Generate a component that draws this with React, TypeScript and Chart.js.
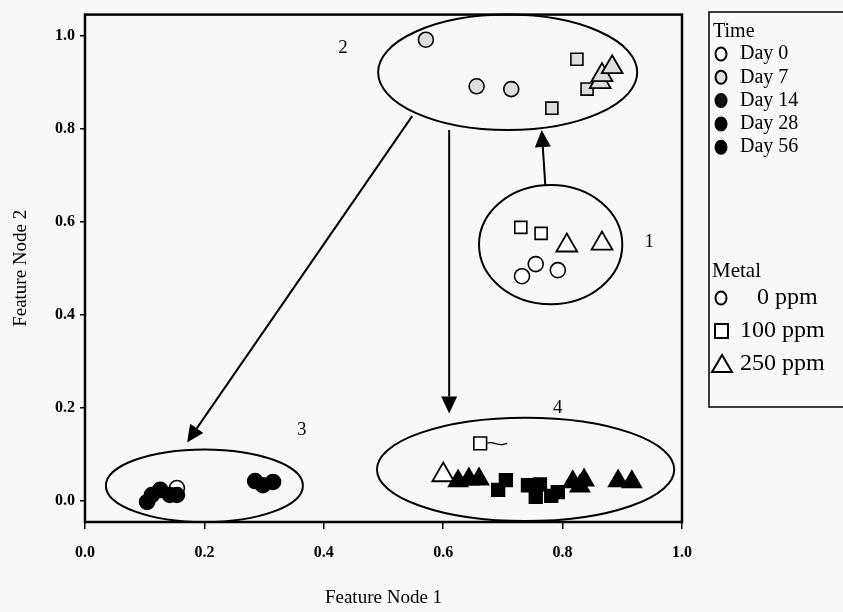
import React, { useEffect, useRef } from 'react';
import { Chart, registerables } from 'chart.js';
Chart.register(...registerables);

const SERIF = '"Liberation Serif", "Times New Roman", serif';

const xTickValues = [0, 0.2, 0.4, 0.6, 0.8, 1.0];
const yTickValues = [0, 0.2, 0.4, 0.6, 0.8, 1.0];

// Cluster 1 — Day 0 (open markers)
const day0Circles = [{ x: 0.732, y: 0.483 }, { x: 0.755, y: 0.509 }, { x: 0.792, y: 0.496 }];
const day0Squares = [{ x: 0.730, y: 0.588 }, { x: 0.764, y: 0.575 }];
const day0Triangles = [{ x: 0.807, y: 0.549 }, { x: 0.866, y: 0.553 }];

// Cluster 2 — Day 7
const day7Circles = [{ x: 0.571, y: 0.991 }, { x: 0.656, y: 0.891 }, { x: 0.714, y: 0.885 }];
const day7Squares = [{ x: 0.824, y: 0.949 }, { x: 0.841, y: 0.885 }, { x: 0.782, y: 0.844 }];
const day7Triangles = [{ x: 0.863, y: 0.900 }, { x: 0.866, y: 0.915 }, { x: 0.883, y: 0.932 }];

// Cluster 3 — later days, 0 ppm
const lateCircles = [
  { x: 0.104, y: -0.002 }, { x: 0.112, y: 0.013 }, { x: 0.126, y: 0.024 }, { x: 0.142, y: 0.013 },
  { x: 0.154, y: 0.013 }, { x: 0.285, y: 0.043 }, { x: 0.298, y: 0.034 }, { x: 0.315, y: 0.041 },
];
const lateOpenCircle = [{ x: 0.154, y: 0.028 }];

// Cluster 4 — later days, 100 / 250 ppm
const lateSquares = [
  { x: 0.692, y: 0.024 }, { x: 0.705, y: 0.045 }, { x: 0.742, y: 0.034 }, { x: 0.762, y: 0.036 },
  { x: 0.755, y: 0.009 }, { x: 0.781, y: 0.011 }, { x: 0.792, y: 0.019 },
];
const lateTriangles = [
  { x: 0.625, y: 0.043 }, { x: 0.643, y: 0.047 }, { x: 0.660, y: 0.047 }, { x: 0.817, y: 0.041 },
  { x: 0.829, y: 0.032 }, { x: 0.836, y: 0.045 }, { x: 0.893, y: 0.043 }, { x: 0.916, y: 0.041 },
];
const cluster4OpenSquare = [{ x: 0.662, y: 0.124 }];
const cluster4OpenTriangle = [{ x: 0.600, y: 0.056 }];

// Cluster outlines (data units)
const clusterNames = ['1', '2', '3', '4'];
const clusterCenterX = [0.780, 0.708, 0.200, 0.738];
const clusterCenterY = [0.551, 0.921, 0.033, 0.068];
const clusterRadiusX = [0.120, 0.217, 0.165, 0.249];
const clusterRadiusY = [0.128, 0.124, 0.078, 0.111];
const clusterLabelX = [0.945, 0.432, 0.363, 0.792];
const clusterLabelY = [0.556, 0.974, 0.152, 0.199];

// Arrows (data units)
const arrowFromX = [0.771, 0.610, 0.548];
const arrowFromY = [0.679, 0.797, 0.827];
const arrowToX = [0.765, 0.610, 0.171];
const arrowToY = [0.797, 0.188, 0.126];

// Legend
const timeLegend = ['Day 0', 'Day 7', 'Day 14', 'Day 28', 'Day 56'];
const metalLegend = ['0 ppm', '100 ppm', '250 ppm'];

const WHITE = '#ffffff';
const GRAY = '#dedede';
const BLACK = '#000000';
const timeFills = [WHITE, GRAY, '#111111', BLACK, BLACK];

const overlay = {
  id: 'overlay',
  beforeDraw(chart: any) {
    const { ctx, width, height } = chart;
    ctx.save();
    ctx.fillStyle = '#f8f8f8';
    ctx.fillRect(0, 0, width, height);
    ctx.restore();
  },
  beforeDatasetsDraw(chart: any) {
    const { ctx } = chart;
    const xs = chart.scales.x;
    const ys = chart.scales.y;
    ctx.save();
    ctx.strokeStyle = BLACK;
    ctx.lineWidth = 2;
    for (let i = 0; i < clusterNames.length; i++) {
      const cx = xs.getPixelForValue(clusterCenterX[i]);
      const cy = ys.getPixelForValue(clusterCenterY[i]);
      const rx = Math.abs(xs.getPixelForValue(clusterCenterX[i] + clusterRadiusX[i]) - cx);
      const ry = Math.abs(ys.getPixelForValue(clusterCenterY[i] + clusterRadiusY[i]) - cy);
      ctx.beginPath();
      ctx.ellipse(cx, cy, rx, ry, 0, 0, Math.PI * 2);
      ctx.stroke();
      ctx.fillStyle = BLACK;
      ctx.font = '19px ' + SERIF;
      ctx.textAlign = 'center';
      ctx.textBaseline = 'middle';
      ctx.fillText(clusterNames[i], xs.getPixelForValue(clusterLabelX[i]), ys.getPixelForValue(clusterLabelY[i]));
    }
    for (let i = 0; i < arrowFromX.length; i++) {
      const x0 = xs.getPixelForValue(arrowFromX[i]);
      const y0 = ys.getPixelForValue(arrowFromY[i]);
      const x1 = xs.getPixelForValue(arrowToX[i]);
      const y1 = ys.getPixelForValue(arrowToY[i]);
      const ang = Math.atan2(y1 - y0, x1 - x0);
      const headLen = 17;
      const headHalf = 8;
      const bx = x1 - Math.cos(ang) * headLen;
      const by = y1 - Math.sin(ang) * headLen;
      ctx.lineWidth = 2;
      ctx.beginPath();
      ctx.moveTo(x0, y0);
      ctx.lineTo(bx, by);
      ctx.stroke();
      ctx.beginPath();
      ctx.moveTo(x1, y1);
      ctx.lineTo(bx + Math.sin(ang) * headHalf, by - Math.cos(ang) * headHalf);
      ctx.lineTo(bx - Math.sin(ang) * headHalf, by + Math.cos(ang) * headHalf);
      ctx.closePath();
      ctx.fill();
    }
    const sx = xs.getPixelForValue(cluster4OpenSquare[0].x) + 7;
    const sy = ys.getPixelForValue(cluster4OpenSquare[0].y);
    ctx.lineWidth = 1.2;
    ctx.beginPath();
    ctx.moveTo(sx, sy);
    ctx.bezierCurveTo(sx + 6, sy - 3, sx + 10, sy + 3, sx + 16, sy + 1);
    ctx.lineTo(sx + 20, sy);
    ctx.stroke();
    ctx.restore();
  },
  afterDraw(chart: any) {
    const { ctx, chartArea } = chart;
    ctx.save();
    ctx.strokeStyle = BLACK;
    ctx.lineWidth = 2.5;
    ctx.strokeRect(chartArea.left, chartArea.top, chartArea.right - chartArea.left, chartArea.bottom - chartArea.top);

    const lx = 709;
    const ly = 12;
    ctx.lineWidth = 1.5;
    ctx.strokeRect(lx, ly, 150, 395);
    ctx.fillStyle = BLACK;
    ctx.textBaseline = 'middle';
    ctx.textAlign = 'left';
    ctx.font = '20px ' + SERIF;
    ctx.fillText('Time', lx + 4, ly + 20);
    for (let i = 0; i < timeLegend.length; i++) {
      const y = ly + 42 + i * 23.3;
      ctx.beginPath();
      ctx.ellipse(lx + 12, y, 5.5, 6.5, 0, 0, Math.PI * 2);
      ctx.fillStyle = timeFills[i];
      ctx.fill();
      ctx.lineWidth = 2;
      ctx.strokeStyle = BLACK;
      ctx.stroke();
      ctx.fillStyle = BLACK;
      ctx.fillText(timeLegend[i], lx + 31, y);
    }
    ctx.font = '21px ' + SERIF;
    ctx.fillText('Metal', lx + 3, ly + 259);
    const my = [ly + 286, ly + 319, ly + 352];
    ctx.beginPath();
    ctx.ellipse(lx + 12, my[0], 5.5, 6.5, 0, 0, Math.PI * 2);
    ctx.fillStyle = WHITE;
    ctx.fill();
    ctx.stroke();
    ctx.fillStyle = WHITE;
    ctx.fillRect(lx + 6, my[1] - 7, 13, 14);
    ctx.strokeRect(lx + 6, my[1] - 7, 13, 14);
    ctx.beginPath();
    ctx.moveTo(lx + 13, my[2] - 9);
    ctx.lineTo(lx + 23, my[2] + 8);
    ctx.lineTo(lx + 3, my[2] + 8);
    ctx.closePath();
    ctx.fill();
    ctx.stroke();
    ctx.fillStyle = BLACK;
    ctx.font = '24px ' + SERIF;
    ctx.fillText(metalLegend[0], lx + 48, my[0]);
    ctx.fillText(metalLegend[1], lx + 31, my[1]);
    ctx.fillText(metalLegend[2], lx + 31, my[2]);
    ctx.restore();
  },
};

function ds(data: any[], style: string, radius: number, fill: string, bw = 1.6) {
  return {
    data,
    pointStyle: style,
    pointRadius: radius,
    pointBackgroundColor: fill,
    pointBorderColor: BLACK,
    pointBorderWidth: bw,
    showLine: false,
  };
}

export default function App() {
  const ref = useRef<HTMLCanvasElement>(null);
  useEffect(() => {
    if (!ref.current) return;
    const tickFont = { family: SERIF, size: 16, weight: 'bold' as const };
    const titleFont = { family: SERIF, size: 19 };
    const chart = new Chart(ref.current, {
      type: 'scatter',
      data: {
        datasets: [
          ds(lateCircles, 'circle', 7.5, BLACK),
          ds(lateSquares, 'rect', 9, BLACK),
          ds(lateTriangles, 'triangle', 11, BLACK),
          ds(cluster4OpenSquare, 'rect', 9, WHITE),
          ds(cluster4OpenTriangle, 'triangle', 12.5, WHITE, 1.8),
          ds(day0Circles, 'circle', 7.5, WHITE),
          ds(day0Squares, 'rect', 8.5, WHITE),
          ds(day0Triangles, 'triangle', 12, WHITE, 1.8),
          ds(day7Triangles, 'triangle', 12, GRAY, 1.8),
          ds(day7Circles, 'circle', 7.5, GRAY),
          ds(day7Squares, 'rect', 8.5, GRAY),
          ds(lateOpenCircle, 'circle', 7.5, WHITE),
        ] as any,
      },
      options: {
        animation: false,
        responsive: false,
        events: [],
        layout: { padding: { left: 0, top: 12, right: 161, bottom: 0 } },
        plugins: { legend: { display: false }, tooltip: { enabled: false } },
        scales: {
          x: {
            type: 'linear',
            min: 0,
            max: 1,
            afterBuildTicks: (s: any) => { s.ticks = xTickValues.map((v) => ({ value: v })); },
            afterFit: (s: any) => { s.height = 90; },
            ticks: { callback: (v: any) => Number(v).toFixed(1), font: tickFont, color: BLACK, padding: 14, maxRotation: 0 },
            grid: { drawOnChartArea: false, tickLength: 7, color: BLACK, lineWidth: 1.5 },
            border: { display: false },
            title: { display: true, text: 'Feature Node 1', font: titleFont, color: BLACK, padding: { top: 0, bottom: 3 } },
          },
          y: {
            type: 'linear',
            min: -0.045,
            max: 1.045,
            afterBuildTicks: (s: any) => { s.ticks = yTickValues.map((v) => ({ value: v })); },
            afterFit: (s: any) => { s.width = 85; },
            ticks: { callback: (v: any) => Number(v).toFixed(1), font: tickFont, color: BLACK, padding: 5 },
            grid: { drawOnChartArea: false, tickLength: 5, color: BLACK, lineWidth: 1.5 },
            border: { display: false },
            title: { display: true, text: 'Feature Node 2', font: titleFont, color: BLACK, padding: { top: 10, bottom: 0 } },
          },
        },
      },
      plugins: [overlay],
    });
    return () => chart.destroy();
  }, []);
  return (
    <div style={{ position: 'fixed', left: 0, top: 0, width: 843, height: 612 }}>
      <canvas ref={ref} width={843} height={612} style={{ display: 'block' }} />
    </div>
  );
}
